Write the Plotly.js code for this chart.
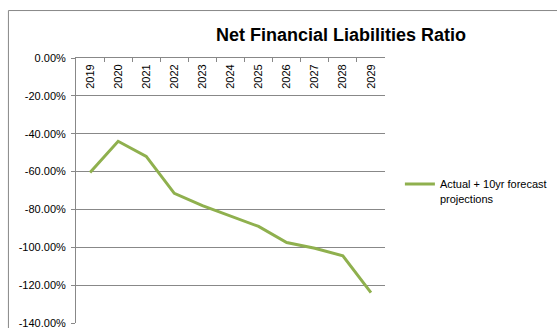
<!DOCTYPE html>
<html>
<head>
<meta charset="utf-8">
<script src="https://cdn.plot.ly/plotly-3.0.1.min.js"></script>
<style>html,body{margin:0;padding:0;background:#fff;}#chart{width:557px;height:328px;}</style>
</head>
<body>
<div id="chart"></div>
<script>
const years = ['2019','2020','2021','2022','2023','2024','2025','2026','2027','2028','2029'];
const ratioPct = [-60.5, -44, -52, -71.5, -78, -83.5, -89, -97.5, -100.5, -104.5, -124];
const yTickVals = [0, -20, -40, -60, -80, -100, -120, -140];
const yTickText = ['0.00%', '-20.00%', '-40.00%', '-60.00%', '-80.00%', '-100.00%', '-120.00%', '-140.00%'];
const seriesName = 'Actual + 10yr forecast<br>projections';
const titleText = 'Net Financial Liabilities Ratio';

const W = 557, H = 328;
const L = 76, R = 387, T = 57.5, B = 322.7;
const pw = R - L, ph = B - T;

const trace = {
  x: years, y: ratioPct, type: 'scatter', mode: 'lines', name: seriesName,
  line: {color: '#8FB04E', width: 3}, showlegend: true
};

const layout = {
  width: W, height: H,
  margin: {l: L, r: W - R, t: T, b: H - B, pad: 0},
  paper_bgcolor: '#fff', plot_bgcolor: '#fff',
  font: {family: '"Liberation Sans", Arial, sans-serif', size: 11, color: '#000'},
  title: {text: '<b>' + titleText + '</b>', font: {size: 18, color: '#000'},
          xref: 'container', yref: 'container', x: 341/W, xanchor: 'center', y: 1 - 35/H, yanchor: 'middle'},
  xaxis: {
    type: 'category', side: 'top', range: [-0.5, 10.5],
    showline: true, linecolor: '#888', linewidth: 1,
    ticks: 'inside', ticklen: 4, tickcolor: '#888', tickson: 'boundaries',
    tickangle: -90, ticklabelstandoff: -34,
    showgrid: false, zeroline: false, fixedrange: true
  },
  yaxis: {
    range: [-140, 0], tickmode: 'array', tickvals: yTickVals, ticktext: yTickText,
    showline: true, linecolor: '#888', linewidth: 1,
    ticks: 'outside', ticklen: 4, tickcolor: '#888', ticklabeloverflow: 'allow',
    ticklabelstandoff: 3,
    showgrid: true, gridcolor: '#888', gridwidth: 1, zeroline: false, fixedrange: true
  },
  legend: {x: (402 - L)/pw, xanchor: 'left', y: 1 - (170 - T)/ph, yanchor: 'top', valign: 'top',
           font: {size: 11}, bgcolor: 'rgba(0,0,0,0)', itemwidth: 30},
  shapes: [{type: 'rect', xref: 'paper', yref: 'paper',
            x0: (8 - L)/pw, x1: (600 - L)/pw, y0: (B - 400)/ph, y1: (B - 10)/ph,
            line: {color: '#888', width: 1}, fillcolor: 'rgba(0,0,0,0)', layer: 'below'}]
};

Plotly.newPlot('chart', [trace], layout, {displayModeBar: false, staticPlot: true});
</script>
</body>
</html>
